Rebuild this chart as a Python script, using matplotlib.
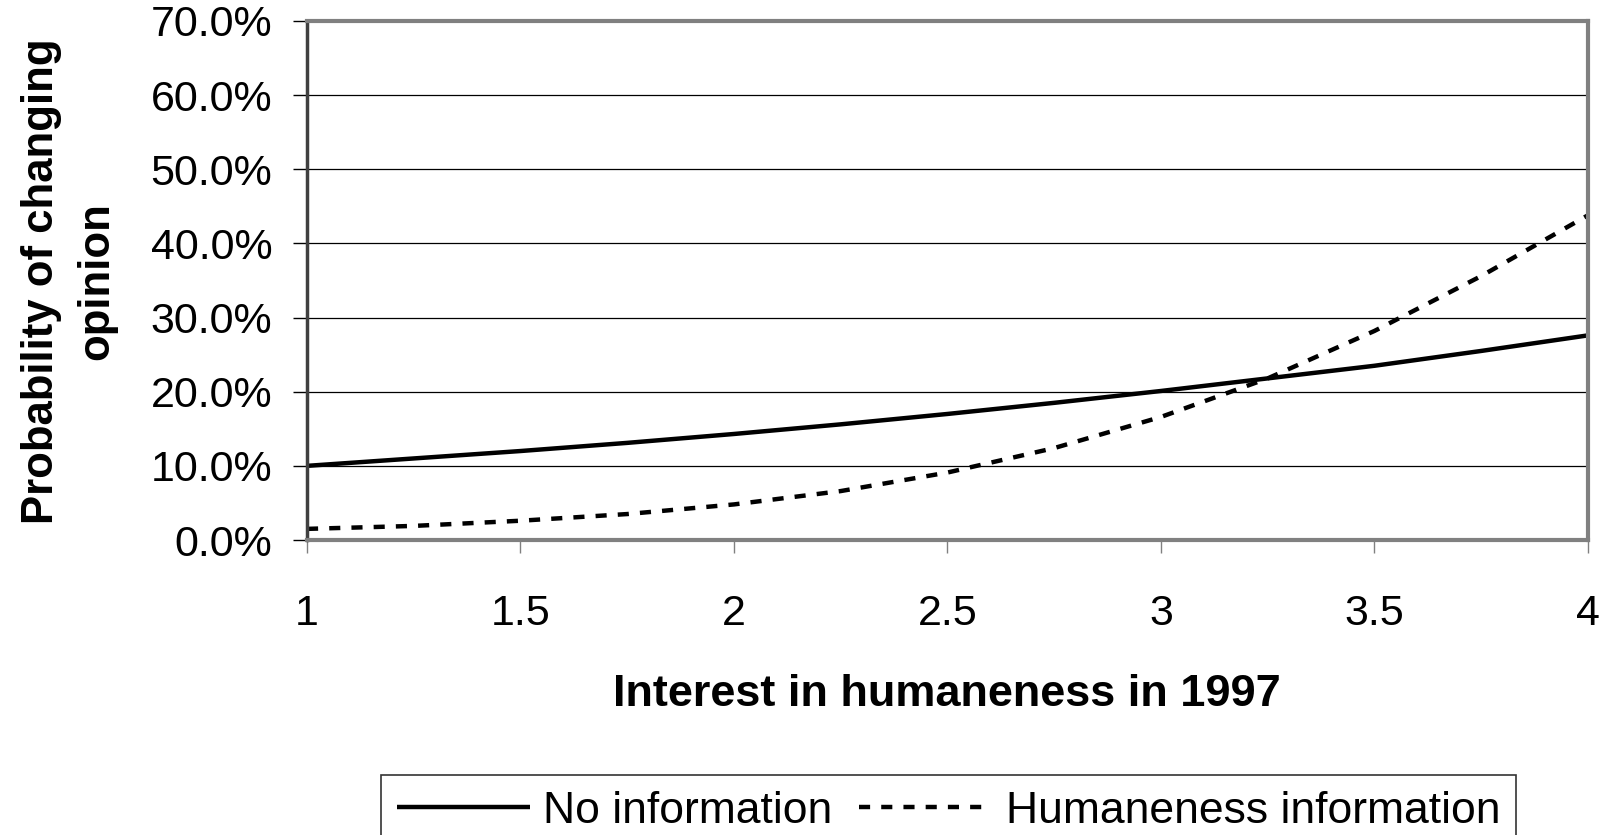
import numpy as np
import matplotlib
matplotlib.use("Agg")
import matplotlib.pyplot as plt
from matplotlib.ticker import PercentFormatter, MultipleLocator

plt.rcParams['font.family'] = ['Liberation Sans', 'DejaVu Sans']

# interest score (x) and predicted probability of changing opinion
interest = [1.0, 1.25, 1.5, 1.75, 2.0, 2.25, 2.5, 2.75, 3.0, 3.25, 3.5, 3.75, 4.0]
no_info = [0.100, 0.110, 0.120, 0.131, 0.143, 0.156, 0.170, 0.185, 0.201, 0.218, 0.235, 0.255, 0.276]
humane_info = [0.015, 0.019, 0.026, 0.035, 0.048, 0.066, 0.091, 0.124, 0.166, 0.218, 0.282, 0.356, 0.438]

fig = plt.figure(figsize=(16.06, 8.35), dpi=100)
ax = fig.add_axes([307 / 1606, 1 - 540 / 835, (1588 - 307) / 1606, (540 - 21) / 835])

ax.plot(interest, no_info, color='black', lw=3.2, solid_capstyle='butt',
        label='No information')
ax.plot(interest, humane_info, color='black', lw=3.2, linestyle=(0, (2.5, 2.5)),
        label='Humaneness information')

ax.set_xlim(1, 4)
ax.set_ylim(0, 0.7)
ax.xaxis.set_major_locator(MultipleLocator(0.5))
ax.yaxis.set_major_locator(MultipleLocator(0.1))
ax.xaxis.set_major_formatter(plt.FuncFormatter(lambda v, p: f'{v:g}'))
ax.yaxis.set_major_formatter(PercentFormatter(xmax=1, decimals=1))

ax.grid(axis='y', color='black', lw=0.9)
ax.set_axisbelow(True)

for side in ['top', 'right', 'bottom']:
    ax.spines[side].set_color('#808080')
    ax.spines[side].set_linewidth(3)
ax.spines['left'].set_color('#404040')
ax.spines['left'].set_linewidth(2.5)

ax.tick_params(axis='y', direction='out', length=10, width=1, color='black',
               labelsize=31, pad=15)
ax.tick_params(axis='x', direction='out', length=9, width=1, color='#808080',
               labelsize=31, pad=30)

fig.text(947 / 1606, 1 - 694 / 835, 'Interest in humaneness in 1997',
         ha='center', va='center', fontsize=32.5, fontweight='bold')
fig.text(69 / 1606, 1 - 281 / 835, 'Probability of changing\nopinion',
         ha='center', va='center', rotation=90, fontsize=31.5, fontweight='bold',
         linespacing=1.45, multialignment='center')

leg = ax.legend(loc='upper left', bbox_to_anchor=(381 / 1606, 1 - 775 / 835),
                bbox_transform=fig.transFigure, ncol=2, fontsize=32,
                frameon=True, fancybox=False, borderpad=0.35, borderaxespad=0,
                handlelength=3.0, handletextpad=0.3, columnspacing=0.6)
leg.get_frame().set_edgecolor('black')
leg.get_frame().set_linewidth(1.2)

fig.savefig('out.png', dpi=100, facecolor='white')
